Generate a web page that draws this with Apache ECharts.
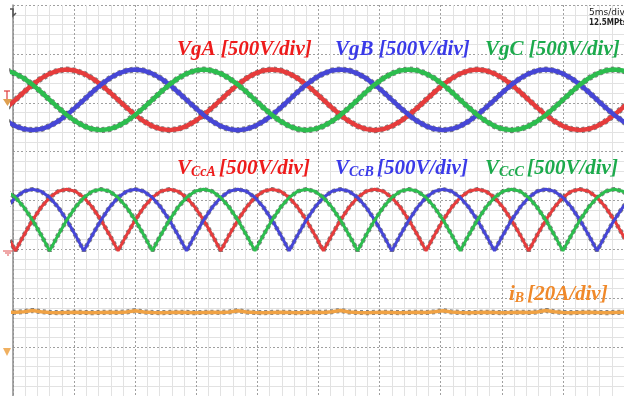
<!DOCTYPE html>
<html><head><meta charset="utf-8">
<script src="https://cdn.jsdelivr.net/npm/echarts@6/dist/echarts.min.js"></script>
<style>html,body{margin:0;padding:0;background:#fff}#c{width:624px;height:396px}</style>
</head><body><div id="c"></div>
<script>
// sample times (ms), 5 ms/div
const timeMs = [-0.5, 0.2, 0.9, 1.6, 2.3, 3.0, 3.7, 4.4, 5.1, 5.8,
  6.5, 7.2, 7.9, 8.6, 9.3, 10.0, 10.7, 11.4, 12.1, 12.8,
  13.5, 14.2, 14.9, 15.6, 16.3, 17.0, 17.7, 18.4, 19.1, 19.8,
  20.5, 21.2, 21.9, 22.6, 23.3, 24.0, 24.7, 25.4, 26.1, 26.8,
  27.5, 28.2, 28.9, 29.6, 30.3, 31.0, 31.7, 32.4, 33.1, 33.8,
  34.5, 35.2, 35.9, 36.6, 37.3, 38.0, 38.7, 39.4, 40.1, 40.8,
  41.5, 42.2, 42.9, 43.6, 44.3, 45.0, 45.7, 46.4, 47.1, 47.8,
  48.5, 49.2, 49.9, 50.6];
// grid voltages (V), 500 V/div
const vgA = [-80,
  0, 80, 155, 219, 268, 299, 310, 299, 268, 219, 155, 80, 0, -80, -155, -219, -268, -299, -310, -299, -268, -219, -155, -80,
  0, 81, 156, 220, 269, 300, 311, 300, 269, 220, 156, 81, 0, -81, -156, -220, -269, -300, -311, -300, -269, -220, -156, -81,
  0, 80, 155, 219, 268, 299, 310, 299, 268, 219, 155, 80, 0, -80, -155, -219, -268, -299, -310, -299, -268, -219, -155, -80,
  0];
const vgB = [-219,
  -268, -299, -310, -299, -268, -219, -155, -80, 0, 80, 155, 219, 268, 299, 310, 299, 268, 219, 155, 80, 0, -80, -155, -219,
  -269, -300, -311, -300, -269, -220, -156, -81, 0, 81, 156, 220, 269, 300, 311, 300, 269, 220, 156, 81, 0, -81, -156, -220,
  -268, -299, -310, -299, -268, -219, -155, -80, 0, 80, 155, 219, 268, 299, 310, 299, 268, 219, 155, 80, 0, -80, -155, -219,
  -268];
const vgC = [299,
  268, 219, 155, 80, 0, -80, -155, -219, -268, -299, -310, -299, -268, -219, -155, -80, 0, 80, 155, 219, 268, 299, 310, 299,
  269, 220, 156, 81, 0, -81, -156, -220, -269, -300, -311, -300, -269, -220, -156, -81, 0, 81, 156, 220, 269, 300, 311, 300,
  268, 219, 155, 80, 0, -80, -155, -219, -268, -299, -310, -299, -268, -219, -155, -80, 0, 80, 155, 219, 268, 299, 310, 299,
  268];
// capacitor voltages (V), 500 V/div
const vccA = [163,
  0, 163, 315, 445, 546, 609, 630, 609, 546, 445, 315, 163, 0, 163, 315, 445, 546, 609, 630, 609, 546, 445, 315, 163,
  0, 163, 315, 445, 546, 609, 630, 609, 546, 445, 315, 163, 0, 163, 315, 445, 546, 609, 630, 609, 546, 445, 315, 163,
  0, 163, 315, 445, 546, 609, 630, 609, 546, 445, 315, 163, 0, 163, 315, 445, 546, 609, 630, 609, 546, 445, 315, 163,
  0];
const vccB = [445,
  546, 609, 630, 609, 546, 445, 315, 163, 0, 163, 315, 445, 546, 609, 630, 609, 546, 445, 315, 163, 0, 163, 315, 445,
  546, 609, 630, 609, 546, 445, 315, 163, 0, 163, 315, 445, 546, 609, 630, 609, 546, 445, 315, 163, 0, 163, 315, 445,
  546, 609, 630, 609, 546, 445, 315, 163, 0, 163, 315, 445, 546, 609, 630, 609, 546, 445, 315, 163, 0, 163, 315, 445,
  546];
const vccC = [609,
  546, 445, 315, 163, 0, 163, 315, 445, 546, 609, 630, 609, 546, 445, 315, 163, 0, 163, 315, 445, 546, 609, 630, 609,
  546, 445, 315, 163, 0, 163, 315, 445, 546, 609, 630, 609, 546, 445, 315, 163, 0, 163, 315, 445, 546, 609, 630, 609,
  546, 445, 315, 163, 0, 163, 315, 445, 546, 609, 630, 609, 546, 445, 315, 163, 0, 163, 315, 445, 546, 609, 630, 609,
  546];
// battery current (A), 20 A/div
const iB = [15.0, 15.1, 15.3, 15.8, 15.3, 15.0, 14.9, 15.0, 15.1, 15.0,
  14.9, 15.0, 15.1, 15.0, 15.2, 15.7, 15.2, 15.0, 14.9, 15.0,
  15.1, 15.0, 14.9, 15.0, 15.1, 15.0, 15.2, 15.7, 15.2, 15.0,
  14.9, 15.0, 15.1, 15.0, 14.9, 15.0, 15.1, 15.0, 15.3, 15.8,
  15.2, 15.0, 14.9, 15.0, 15.1, 15.0, 14.9, 15.0, 15.1, 15.0,
  15.3, 15.7, 15.2, 15.0, 14.9, 15.0, 15.1, 15.0, 14.9, 15.0,
  15.1, 15.0, 15.2, 15.8, 15.3, 15.0, 14.9, 15.0, 15.1, 15.0,
  14.9, 15.0, 15.1, 15.0];

const V_PER_DIV = 500, A_PER_DIV = 20;
const OFF_VG = 2.06, OFF_VCC = -1.03, OFF_IB = -3.04;

function pts(arr, off, perDiv) { return arr.map((v, i) => [timeMs[i], off + v / perDiv]); }

const RED = '#e63c3c', BLUE = '#4646d6', GREEN = '#2cbd4e', ORANGE = '#f0a244';
const traces = [
  { d: pts(vgA, OFF_VG, V_PER_DIV), c: RED, w: 4.5 },
  { d: pts(vgB, OFF_VG, V_PER_DIV), c: BLUE, w: 4.5 },
  { d: pts(vgC, OFF_VG, V_PER_DIV), c: GREEN, w: 4.5 },
  { d: pts(vccA, OFF_VCC, V_PER_DIV), c: RED, w: 3 },
  { d: pts(vccB, OFF_VCC, V_PER_DIV), c: BLUE, w: 3 },
  { d: pts(vccC, OFF_VCC, V_PER_DIV), c: GREEN, w: 3 },
  { d: pts(iB, OFF_IB, A_PER_DIV), c: ORANGE, w: 3.5 }
];
const series = [];
traces.forEach(t => series.push({ type: 'line', data: t.d, showSymbol: false, silent: true, z: 2,
  lineStyle: { color: '#1a1a1a', width: t.w + 1.6, type: [3, 3], opacity: 0.55 } }));
traces.forEach(t => series.push({ type: 'line', data: t.d, showSymbol: false, silent: true, z: 3,
  lineStyle: { color: t.c, width: t.w } }));

const serif = '"Liberation Serif", "Times New Roman", serif';
function lbl(x, y, text, color, rich) {
  return { type: 'text', x: x, y: y, z: 10, silent: true,
    style: { text: text, fill: color, font: 'italic bold 21px ' + serif, verticalAlign: 'middle', rich: rich } };
}
function subRich(color) {
  return {
    m: { fontFamily: serif, fontSize: 21, fontStyle: 'italic', fontWeight: 'bold', color: color, verticalAlign: 'bottom', lineHeight: 21 },
    s: { fontFamily: serif, fontSize: 14, fontStyle: 'italic', fontWeight: 'bold', color: color, verticalAlign: 'bottom', lineHeight: 10, padding: [0, 3, 0, 0] }
  };
}
const chart = echarts.init(document.getElementById('c'), null, { renderer: 'canvas' });
chart.setOption({
  animation: false,
  backgroundColor: '#ffffff',
  grid: { left: 13, right: 0, top: 5, bottom: 0 },
  xAxis: { type: 'value', min: 0, max: 50, interval: 5,
    axisLine: { show: false }, axisTick: { show: false }, axisLabel: { show: false },
    splitLine: { show: true, lineStyle: { color: '#a0a0a0', type: [2, 2], width: 1 } },
    minorTick: { show: false, splitNumber: 5 },
    minorSplitLine: { show: true, lineStyle: { color: '#e2e2e2', width: 1 } } },
  yAxis: { type: 'value', min: -4, max: 4, interval: 1,
    axisLine: { show: true, onZero: false, lineStyle: { color: '#8c8c8c', width: 1.5 } },
    axisTick: { show: false }, axisLabel: { show: false },
    splitLine: { show: true, lineStyle: { color: '#a0a0a0', type: [2, 2], width: 1 } },
    minorTick: { show: false, splitNumber: 5 },
    minorSplitLine: { show: true, lineStyle: { color: '#e2e2e2', width: 1 } } },
  series: series,
  graphic: [
    lbl(177, 50, 'VgA [500V/div]', '#ee1b1b'),
    lbl(335, 50, 'VgB [500V/div]', '#3a3ae8'),
    lbl(485, 50, 'VgC [500V/div]', '#1caa4c'),
    lbl(177, 169, '{m|V}{s|CcA}{m|[500V/div]}', '#ee1b1b', subRich('#ee1b1b')),
    lbl(335, 169, '{m|V}{s|CcB}{m|[500V/div]}', '#3a3ae8', subRich('#3a3ae8')),
    lbl(485, 169, '{m|V}{s|CcC}{m|[500V/div]}', '#1caa4c', subRich('#1caa4c')),
    lbl(509, 295, '{m|i}{s|B}{m|[20A/div]}', '#f0892a', subRich('#f0892a')),
    { type: 'text', x: 589, y: 8, z: 10, style: { text: '5ms/div', fill: '#222', font: '9px "DejaVu Sans"' } },
    { type: 'text', x: 589, y: 19, z: 10, style: { text: '12.5MPts', fill: '#222', font: 'bold 8px "DejaVu Sans Condensed", "DejaVu Sans"' } },
    { type: 'polyline', z: 10, shape: { points: [[10, 9], [13, 9], [13, 16], [16, 13]] }, style: { stroke: '#555', lineWidth: 1.5, fill: null } },
    { type: 'polyline', z: 10, shape: { points: [[4, 91], [10, 91]] }, style: { stroke: '#e03a3a', lineWidth: 1.2 } },
    { type: 'polyline', z: 10, shape: { points: [[7, 91], [7, 99]] }, style: { stroke: '#e03a3a', lineWidth: 1.2 } },
    { type: 'polygon', z: 10, shape: { points: [[3, 99], [12, 99], [7.5, 106]] }, style: { fill: '#dfa050' } },
    { type: 'polyline', z: 10, shape: { points: [[3, 251], [13, 251]] }, style: { stroke: '#e05050', lineWidth: 1 } },
    { type: 'polyline', z: 10, shape: { points: [[5, 253], [11, 253]] }, style: { stroke: '#e05050', lineWidth: 1 } },
    { type: 'polyline', z: 10, shape: { points: [[7, 255], [9, 255]] }, style: { stroke: '#e05050', lineWidth: 1 } },
    { type: 'polygon', z: 10, shape: { points: [[3, 348], [11, 348], [7, 356]] }, style: { fill: '#f0b060' } }
  ]
});
</script></body></html>
